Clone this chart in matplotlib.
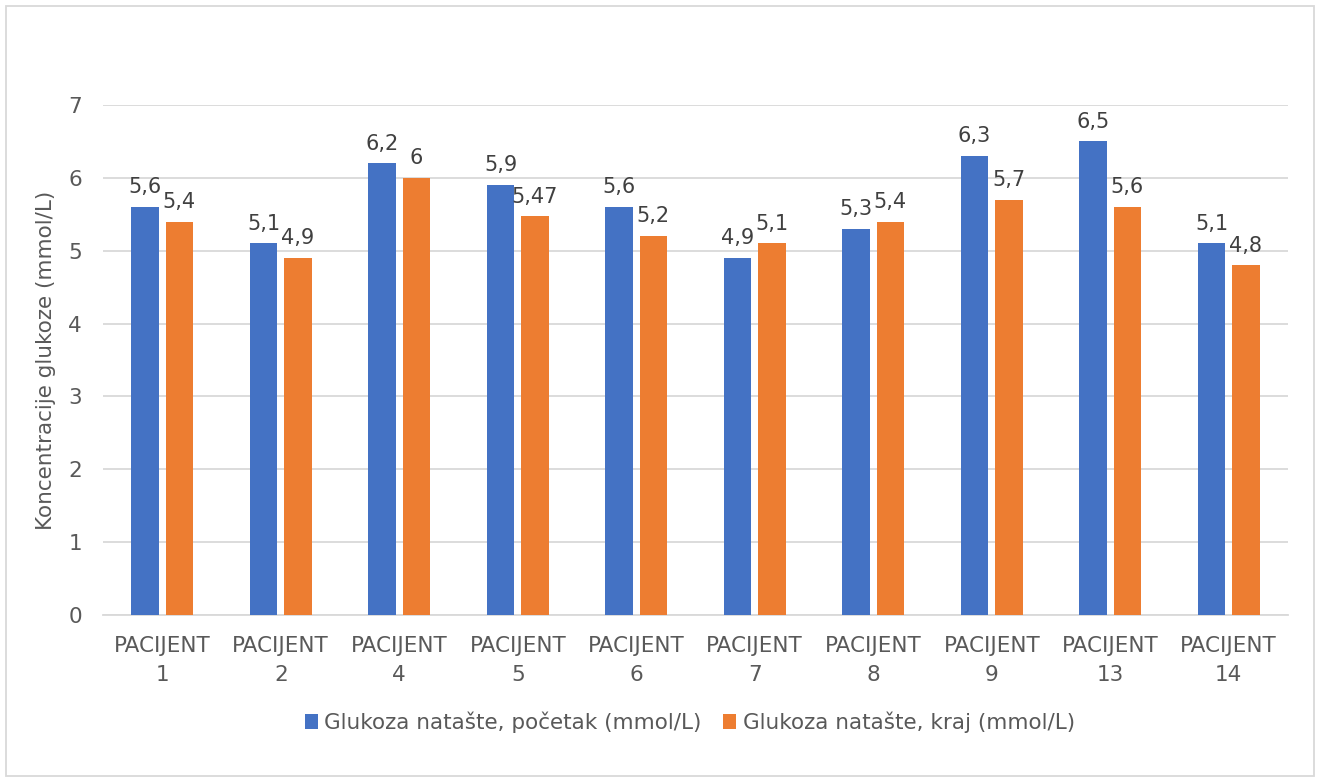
import matplotlib
matplotlib.use("Agg")
import matplotlib.pyplot as plt
import numpy as np
from matplotlib.patches import Rectangle

categories = ["PACIJENT\n1", "PACIJENT\n2", "PACIJENT\n4", "PACIJENT\n5", "PACIJENT\n6",
              "PACIJENT\n7", "PACIJENT\n8", "PACIJENT\n9", "PACIJENT\n13", "PACIJENT\n14"]
start_vals = [5.6, 5.1, 6.2, 5.9, 5.6, 4.9, 5.3, 6.3, 6.5, 5.1]
end_vals = [5.4, 4.9, 6.0, 5.47, 5.2, 5.1, 5.4, 5.7, 5.6, 4.8]
series_names = ["Glukoza natašte, početak (mmol/L)", "Glukoza natašte, kraj (mmol/L)"]
yticks = [0, 1, 2, 3, 4, 5, 6, 7]

def fmt(v):
    s = ("%g" % v).replace(".", ",")
    return s

plt.rcParams['font.family'] = ['DejaVu Sans']
W, H = 1320, 782
fig = plt.figure(figsize=(W/100, H/100), dpi=100)
ax = fig.add_axes([103/W, 1-615/H, (1288-103)/W, (615-105)/H])

blue = "#4472C4"
orange = "#ED7D31"
x = np.arange(len(categories))
bw = 0.23
off = 0.145
b1 = ax.bar(x - off, start_vals, bw, color=blue, zorder=3)
b2 = ax.bar(x + off, end_vals, bw, color=orange, zorder=3)
for bars, vals in ((b1, start_vals), (b2, end_vals)):
    for r, v in zip(bars, vals):
        ax.annotate(fmt(v), (r.get_x() + r.get_width()/2, v), xytext=(0, 7),
                    textcoords="offset points", ha="center", va="bottom",
                    fontsize=15, color="#404040")

ax.set_xlim(-0.5, len(categories) - 0.5)
ax.set_ylim(0, 7)
ax.set_yticks(yticks)
ax.set_yticklabels([str(t) for t in yticks])
ax.set_xticks(x)
ax.set_xticklabels(categories, fontsize=15.5, color="#595959", linespacing=1.55)
ax.tick_params(axis='y', labelsize=15.5, colors="#595959", length=0, pad=15)
ax.tick_params(axis='x', length=0, pad=15)
ax.grid(axis='y', color="#D9D9D9", linewidth=1.3, zorder=0)
for s in ["top", "right", "left"]:
    ax.spines[s].set_visible(False)
ax.spines["bottom"].set_color("#D9D9D9")
ax.spines["bottom"].set_linewidth(1.3)
ax.set_ylabel("Koncentracije glukoze (mmol/L)", fontsize=15.5, color="#595959", labelpad=9)

leg = fig.legend([b1, b2], series_names, loc="center", bbox_to_anchor=(690/W, 1-722/H),
                 ncol=2, frameon=False, fontsize=15.5, handlelength=0.6, handleheight=0.7,
                 handletextpad=0.3, columnspacing=1.0)
for t in leg.get_texts():
    t.set_color("#595959")

fig.patches.append(Rectangle((6/W, 6/H), (W-12)/W, (H-12)/H, transform=fig.transFigure,
                             fill=False, edgecolor="#D9D9D9", linewidth=1.3))
fig.savefig("out.png", dpi=100)
